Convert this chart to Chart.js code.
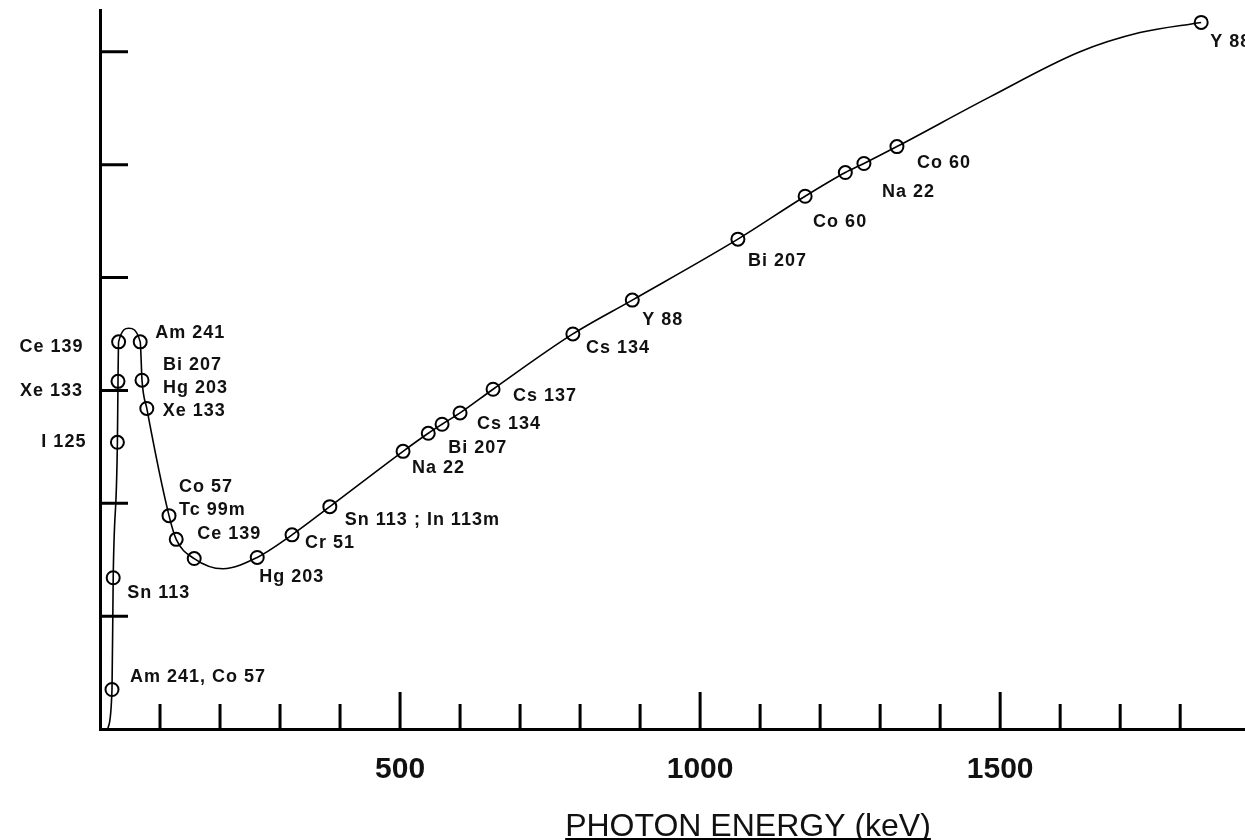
<!DOCTYPE html>
<html>
<head>
<meta charset="UTF-8">
<title>Photon energy response</title>
<script src="https://cdn.jsdelivr.net/npm/chart.js@4.4.1/dist/chart.umd.min.js"></script>
<style>
  html, body { margin: 0; padding: 0; background: #fff; }
  canvas { display: block; }
</style>
</head>
<body>
<canvas id="canvas" width="1245" height="840"></canvas>
<script>
// measured sources, in order along the curve (energy in keV, response in axis units)
const energy   = [20, 22, 29, 30, 31, 67, 70, 78, 115, 127, 157, 262, 320, 383, 505, 547, 570, 600, 655, 788, 887, 1063, 1175, 1242, 1273, 1328, 1835];
const response = [0.35, 1.34, 2.54, 3.08, 3.43, 3.43, 3.09, 2.84, 1.89, 1.68, 1.51, 1.52, 1.72, 1.97, 2.46, 2.62, 2.70, 2.80, 3.01, 3.50, 3.80, 4.34, 4.72, 4.93, 5.01, 5.16, 6.26];
const isotope  = ['Am 241, Co 57', 'Sn 113', 'I 125', 'Xe 133', 'Ce 139', 'Am 241', 'Bi 207\nHg 203', 'Xe 133',
                  'Co 57\nTc 99m', 'Ce 139', '', 'Hg 203', 'Cr 51', 'Sn 113 ; In 113m', 'Na 22', 'Bi 207', '',
                  'Cs 134', 'Cs 137', 'Cs 134', 'Y 88', 'Bi 207', 'Co 60', '', 'Na 22', 'Co 60', 'Y 88'];

// extra points on the drawn curve that carry no marker
const traceEnergy   = [13, 48, 205, 1483, 1633, 1733];
const traceResponse = [0, 3.55, 1.42, 5.60, 6.00, 6.17];

const xLabelValues = [500, 1000, 1500];
const xTickValues = [100, 200, 300, 400, 500, 600, 700, 800, 900, 1000, 1100, 1200, 1300, 1400, 1500, 1600, 1700, 1800];
const yTickValues = [1, 2, 3, 4, 5, 6];

// label placement relative to its marker (px)
const labelDx    = [18, 14, -31, -35, -35, 15, 21, 16, 10, 21, 0, 2, 13, 15, 9, 20, 0, 17, 20, 13, 10, 10, 8, 0, 18, 20, 9];
const labelDy    = [-12, 15, 0, 10, 5, -9, -15, 3, -29, -5, 0, 20, 8, 13, 17, 15, 0, 11, 7, 14, 20, 22, 26, 0, 29, 16, 20];
const labelRight = [2, 3, 4];

const markers = energy.map((e, i) => ({ x: e, y: response[i] }));
const trace = markers
  .concat(traceEnergy.map((e, i) => ({ x: e, y: traceResponse[i] })))
  .sort((a, b) => a.x - b.x);

const decorations = {
  id: 'decorations',
  afterDatasetsDraw(chart) {
    const ctx = chart.ctx;
    const xs = chart.scales.x, ys = chart.scales.y;
    const base = ys.getPixelForValue(0);
    ctx.save();
    ctx.strokeStyle = '#000';
    ctx.lineWidth = 3;
    ctx.beginPath();
    xTickValues.forEach(v => {
      const px = xs.getPixelForValue(v);
      ctx.moveTo(px, base);
      ctx.lineTo(px, base - (xLabelValues.includes(v) ? 37 : 25));
    });
    yTickValues.forEach(v => {
      const py = ys.getPixelForValue(v);
      ctx.moveTo(xs.left, py);
      ctx.lineTo(xs.left + 28, py);
    });
    ctx.stroke();

    // isotope labels
    const pts = chart.getDatasetMeta(1).data;
    ctx.fillStyle = '#111';
    ctx.font = 'bold 18px "Liberation Sans", Arial, sans-serif';
    ctx.letterSpacing = '1px';
    ctx.textBaseline = 'middle';
    isotope.forEach((txt, i) => {
      if (!txt) return;
      ctx.textAlign = labelRight.includes(i) ? 'right' : 'left';
      txt.split('\n').forEach((line, k) => {
        ctx.fillText(line, pts[i].x + labelDx[i], pts[i].y + labelDy[i] + k * 23);
      });
    });

    // axis title, underlined
    ctx.letterSpacing = '0px';
    ctx.font = '32px "Liberation Sans", Arial, sans-serif';
    ctx.textAlign = 'center';
    ctx.textBaseline = 'alphabetic';
    const title = 'PHOTON ENERGY (keV)';
    const tx = 748, ty = 836;
    ctx.fillText(title, tx, ty);
    const w = ctx.measureText(title).width;
    ctx.lineWidth = 2;
    ctx.beginPath();
    ctx.moveTo(tx - w / 2, ty + 3);
    ctx.lineTo(tx + w / 2, ty + 3);
    ctx.stroke();
    ctx.restore();
  }
};

new Chart(document.getElementById('canvas').getContext('2d'), {
  type: 'line',
  data: {
    datasets: [{
      data: trace,
      borderColor: '#000',
      borderWidth: 1.6,
      pointRadius: 0,
      cubicInterpolationMode: 'monotone',
      fill: false
    }, {
      data: markers,
      showLine: false,
      pointStyle: 'circle',
      pointRadius: 6.5,
      pointBorderWidth: 2,
      pointBorderColor: '#000',
      pointBackgroundColor: '#fff'
    }]
  },
  options: {
    responsive: false,
    animation: false,
    devicePixelRatio: 1,
    layout: { autoPadding: false, padding: { top: 10, right: 0, left: 0, bottom: 0 } },
    plugins: { legend: { display: false }, tooltip: { enabled: false } },
    scales: {
      x: {
        type: 'linear',
        min: 0,
        max: 1908,
        grid: { display: false, drawTicks: false },
        border: { display: true, color: '#000', width: 3 },
        afterBuildTicks: s => { s.ticks = xLabelValues.map(v => ({ value: v })); },
        ticks: {
          autoSkip: false,
          maxRotation: 0,
          padding: 23,
          color: '#111',
          font: { family: '"Liberation Sans", Arial, sans-serif', size: 30, weight: 'bold' },
          callback: v => String(v)
        },
        afterFit: s => { s.height = 111; s.paddingLeft = 0; s.paddingRight = 0; }
      },
      y: {
        type: 'linear',
        min: 0,
        max: 6.37,
        grid: { display: false, drawTicks: false },
        border: { display: true, color: '#000', width: 3 },
        ticks: { display: false },
        afterFit: s => { s.width = 100; }
      }
    }
  },
  plugins: [decorations]
});
</script>
</body>
</html>
